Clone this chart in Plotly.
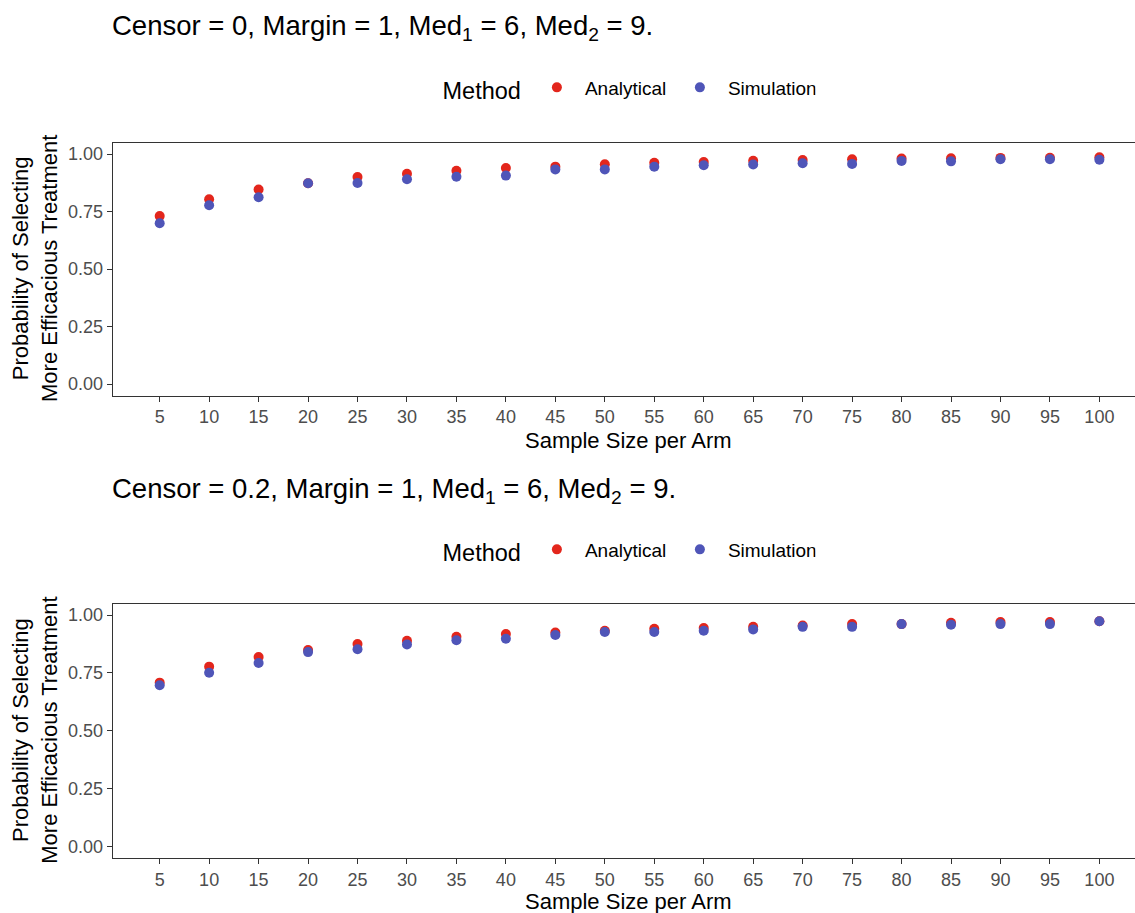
import plotly.graph_objects as go

W, H = 1135, 913

sample_size = [5, 10, 15, 20, 25, 30, 35, 40, 45, 50, 55, 60, 65, 70, 75, 80, 85, 90, 95, 100]

p1_analytical = [0.730, 0.803, 0.846, 0.873, 0.900, 0.914, 0.927, 0.939, 0.945, 0.955,
                 0.962, 0.965, 0.971, 0.974, 0.977, 0.980, 0.981, 0.983, 0.984, 0.986]
p1_simulation = [0.699, 0.777, 0.812, 0.873, 0.874, 0.890, 0.901, 0.906, 0.933, 0.933,
                 0.945, 0.951, 0.954, 0.960, 0.957, 0.970, 0.968, 0.977, 0.977, 0.975]

p2_analytical = [0.708, 0.777, 0.819, 0.849, 0.875, 0.889, 0.906, 0.918, 0.925, 0.932,
                 0.941, 0.944, 0.949, 0.955, 0.961, 0.961, 0.967, 0.970, 0.970, 0.973]
p2_simulation = [0.697, 0.751, 0.793, 0.840, 0.852, 0.873, 0.891, 0.898, 0.914, 0.927,
                 0.927, 0.932, 0.938, 0.949, 0.949, 0.961, 0.958, 0.961, 0.961, 0.973]

titles = ["Censor = 0, Margin = 1, Med<sub>1</sub> = 6, Med<sub>2</sub> = 9.",
          "Censor = 0.2, Margin = 1, Med<sub>1</sub> = 6, Med<sub>2</sub> = 9."]
y_ticks = [0, 0.25, 0.5, 0.75, 1.0]
y_ticklabels = ["0.00", "0.25", "0.50", "0.75", "1.00"]
x_title = "Sample Size per Arm"
y_title = "Probability of Selecting<br>More Efficacious Treatment"
legend_title = "Method"
names = ["Analytical", "Simulation"]

RED = "#E3261C"
BLUE = "#4F55B8"
FONT = "Liberation Sans, Arial, sans-serif"

def py(px):
    return 1 - px / H

def pxx(px):
    return px / W

panels = [
    dict(top=142.5, bot=395.5, title_y=28, legend_y=89, xt_y=440,
         a=p1_analytical, s=p1_simulation, legend="legend"),
    dict(top=603.5, bot=858.0, title_y=490, legend_y=551, xt_y=901,
         a=p2_analytical, s=p2_simulation, legend="legend2"),
]

fig = go.Figure()
annotations = []
for i, p in enumerate(panels):
    xa = "x" if i == 0 else "x2"
    ya = "y" if i == 0 else "y2"
    fig.add_trace(go.Scatter(x=sample_size, y=p["a"], mode="markers", name=names[0],
                             marker=dict(color=RED, size=10), xaxis=xa, yaxis=ya,
                             legend=p["legend"]))
    fig.add_trace(go.Scatter(x=sample_size, y=p["s"], mode="markers", name=names[1],
                             marker=dict(color=BLUE, size=10), xaxis=xa, yaxis=ya,
                             legend=p["legend"]))
    annotations.append(dict(text=titles[i], xref="paper", yref="paper", x=pxx(110),
                            y=py(p["title_y"]), xanchor="left", yanchor="middle",
                            showarrow=False, font=dict(family=FONT, size=27.5, color="black")))
    annotations.append(dict(text=x_title, xref="paper", yref="paper", x=pxx(628),
                            y=py(p["xt_y"]), xanchor="center", yanchor="middle",
                            showarrow=False, font=dict(family=FONT, size=22, color="black")))
    annotations.append(dict(text=y_title, xref="paper", yref="paper", x=pxx(35),
                            y=py((p["top"] + p["bot"]) / 2), xanchor="center", yanchor="middle",
                            textangle=-90, showarrow=False,
                            font=dict(family=FONT, size=22, color="black")))

axis_common = dict(showgrid=False, zeroline=False, showline=True, linecolor="#333333",
                   linewidth=1.2, ticks="outside", ticklen=5, tickcolor="#333333",
                   tickwidth=1.2, tickfont=dict(family=FONT, size=18, color="#4D4D4D"))

layout = dict(
    width=W, height=H, margin=dict(l=0, r=0, t=0, b=0),
    paper_bgcolor="white", plot_bgcolor="white", showlegend=True,
    annotations=annotations,
)
for i, p in enumerate(panels):
    sfx = "" if i == 0 else "2"
    layout["xaxis" + sfx] = dict(axis_common, domain=[pxx(112.7), 1], range=[0.25, 103.6],
                                 tickvals=sample_size, ticktext=[str(v) for v in sample_size],
                                 mirror=True, anchor="y" + sfx)
    layout["yaxis" + sfx] = dict(axis_common, domain=[py(p["bot"]), py(p["top"])],
                                 range=[-0.05, 1.05], tickvals=y_ticks, ticktext=y_ticklabels,
                                 mirror=False, anchor="x" + sfx)
    layout[p["legend"]] = dict(orientation="h", x=pxx(628), xanchor="center",
                               y=py(p["legend_y"]), yanchor="middle",
                               itemwidth=46, entrywidth=82, entrywidthmode="pixels",
                               title=dict(text=legend_title, side="left",
                                          font=dict(family=FONT, size=23.5, color="black")),
                               font=dict(family=FONT, size=19, color="black"),
                               bgcolor="rgba(0,0,0,0)")

fig.update_layout(**layout)
fig.write_html("out.html")
